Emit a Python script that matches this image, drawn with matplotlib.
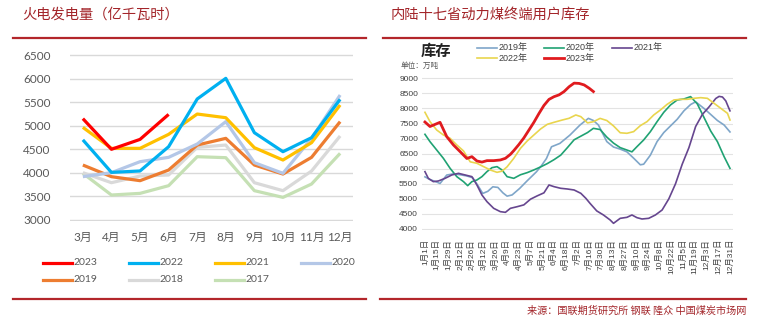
import matplotlib.pyplot as plt
from matplotlib.lines import Line2D

plt.rcParams["font.family"] = ["Lato", "Noto Sans CJK SC", "DejaVu Sans"]

W, H = 761, 328

# thermal power generation, 100 million kWh
months = ["3月", "4月", "5月", "6月", "7月", "8月", "9月", "10月", "11月", "12月"]
gen_2023 = [5150, 4500, 4710, 5240]
gen_2022 = [4700, 4010, 4040, 4555, 5567, 6005, 4852, 4449, 4746, 5560]
gen_2021 = [4965, 4520, 4520, 4817, 5248, 5170, 4534, 4272, 4640, 5440]
gen_2020 = [3919, 4004, 4237, 4329, 4612, 5086, 4216, 3990, 4732, 5651]
gen_2019 = [4166, 3919, 3834, 4060, 4590, 4732, 4166, 3975, 4329, 5086]
gen_2018 = [4004, 3791, 3933, 3954, 4541, 4590, 3791, 3622, 4039, 4782]
gen_2017 = [3990, 3530, 3565, 3728, 4343, 4322, 3622, 3480, 3763, 4414]

# inland 17 provinces end-user stocks, 10k tonnes (day of year)
days_2019 = [0, 6, 12, 18, 26, 34, 42, 50, 57, 63, 69, 75, 81, 87, 93, 98, 104, 113,
             122, 133, 139, 145, 151, 161, 173, 185, 195, 201, 207, 217, 225, 233, 241,
             249, 257, 261, 269, 277, 285, 293, 301, 309, 317, 323, 333, 341, 349, 357, 364]
stock_2019 = [5730, 5640, 5580, 5510, 5790, 5830, 5800, 5760, 5700, 5450, 5180, 5250, 5400,
              5380, 5200, 5090, 5130, 5346, 5600, 5897, 6100, 6340, 6728, 6840, 7116, 7449,
              7671, 7600, 7450, 6900, 6720, 6650, 6560, 6350, 6130, 6150, 6450, 6900, 7200,
              7420, 7640, 7920, 8130, 8220, 8000, 7800, 7600, 7450, 7220]
days_2020 = [0, 6, 14, 22, 30, 38, 46, 51, 56, 62, 68, 74, 80, 86, 92, 98, 106, 114, 122,
             130, 138, 146, 154, 162, 170, 178, 186, 194, 201, 209, 217, 225, 233, 241, 247,
             253, 261, 269, 277, 285, 293, 301, 309, 317, 325, 333, 341, 349, 357, 364]
stock_2020 = [7142, 6898, 6622, 6345, 6013, 5737, 5571, 5438, 5571, 5626, 5737, 5903, 6035,
              6069, 5958, 5737, 5681, 5800, 5870, 5960, 6060, 6170, 6300, 6450, 6700, 6960,
              7080, 7200, 7340, 7300, 7050, 6850, 6700, 6620, 6560, 6732, 6954, 7230, 7562,
              7872, 8115, 8281, 8314, 8392, 8150, 7700, 7250, 6898, 6400, 6013]
days_2021 = [0, 4, 10, 16, 24, 32, 40, 48, 56, 62, 68, 74, 82, 90, 96, 102, 110, 118, 126,
             134, 142, 148, 154, 162, 170, 178, 186, 192, 197, 205, 213, 221, 225, 233, 241,
             247, 253, 259, 267, 275, 283, 291, 299, 307, 315, 323, 331, 339, 347, 351, 355,
             359, 362, 364]
stock_2021 = [5903, 5681, 5571, 5593, 5681, 5792, 5847, 5792, 5737, 5460, 5128, 4907, 4686,
              4575, 4553, 4686, 4740, 4800, 4990, 5100, 5200, 5460, 5405, 5350, 5327, 5294,
              5184, 5018, 4850, 4600, 4465, 4299, 4188, 4354, 4387, 4465, 4376, 4332, 4354,
              4465, 4630, 5000, 5500, 6150, 6700, 7400, 7800, 8050, 8330, 8400, 8380, 8250,
              8050, 7920]
days_2022 = [0, 6, 14, 22, 30, 38, 46, 54, 62, 70, 78, 86, 92, 98, 106, 114, 122, 130, 138,
             146, 154, 164, 172, 180, 186, 194, 201, 209, 217, 225, 233, 241, 249, 257, 265,
             273, 281, 289, 297, 305, 313, 321, 329, 337, 345, 353, 361, 364]
stock_2022 = [7872, 7562, 7285, 7120, 7010, 6788, 6590, 6229, 6180, 6069, 5958, 5880, 5920,
              6063, 6345, 6677, 6920, 7120, 7319, 7473, 7540, 7617, 7673, 7783, 7728, 7520,
              7560, 7670, 7600, 7420, 7193, 7175, 7230, 7429, 7562, 7783, 7949, 8137, 8281,
              8303, 8303, 8336, 8358, 8336, 8170, 8004, 7838, 7617]
days_2023 = [0, 6, 12, 18, 26, 34, 42, 50, 56, 62, 68, 74, 82, 90, 96, 102, 106, 112, 118,
             124, 130, 136, 142, 148, 154, 160, 166, 172, 178, 184, 190, 196, 201]
stock_2023 = [7550, 7400, 7470, 7540, 7064, 6788, 6566, 6340, 6400, 6257, 6220, 6268, 6268,
              6290, 6345, 6478, 6600, 6800, 7020, 7280, 7540, 7830, 8100, 8300, 8390, 8450,
              8560, 8720, 8840, 8830, 8780, 8670, 8560]

date_ticks = list(range(0, 365, 14))
date_labels = ["1月1日", "1月15日", "1月29日", "2月12日", "2月26日", "3月12日", "3月26日",
               "4月9日", "4月23日", "5月7日", "5月21日", "6月4日", "6月18日", "7月2日",
               "7月16日", "7月30日", "8月13日", "8月27日", "9月10日", "9月24日", "10月8日",
               "10月22日", "11月5日", "11月19日", "12月3日", "12月17日", "12月31日"]

title_red = "#a3252a"
rule_red = "#b3262b"


def box(x0, y0, x1, y1):
    return [x0 / W, 1 - y1 / H, (x1 - x0) / W, (y1 - y0) / H]


def fx(x):
    return x / W


def fy(y):
    return 1 - y / H


fig = plt.figure(figsize=(W / 100, H / 100), dpi=100)

# ---- left: generation by month
ax1 = fig.add_axes(box(70, 55 - 0.94, 353, 220 + 0.94))
xs = list(range(len(months)))
left_series = [
    ("2017", gen_2017, "#c5e0b4"),
    ("2018", gen_2018, "#d9d9d9"),
    ("2019", gen_2019, "#ed7d31"),
    ("2020", gen_2020, "#b4c7e7"),
    ("2021", gen_2021, "#ffc000"),
    ("2022", gen_2022, "#00b0f0"),
    ("2023", gen_2023, "#ff0000"),
]
for name, vals, c in left_series:
    ax1.plot(xs[:len(vals)], vals, color=c, lw=2.3, solid_joinstyle="round", solid_capstyle="butt")
ax1.set_xlim(-0.45, 9.45)
ax1.set_ylim(2980, 6520)
ax1.set_yticks(range(3000, 7000, 500))
ax1.set_xticks(xs)
ax1.set_xticklabels(months)
ax1.grid(axis="y", color="#d9d9d9", lw=1)
ax1.set_axisbelow(True)
for s in ax1.spines.values():
    s.set_visible(False)
ax1.tick_params(length=0, labelsize=8.5, labelcolor="#595959")
ax1.tick_params(axis="y", pad=14)
ax1.tick_params(axis="x", pad=8)

# left legend, two rows
legend_left = [("2023", "#ff0000"), ("2022", "#00b0f0"), ("2021", "#ffc000"), ("2020", "#b4c7e7"),
               ("2019", "#ed7d31"), ("2018", "#d9d9d9"), ("2017", "#c5e0b4")]
for i, (name, c) in enumerate(legend_left):
    row, col = divmod(i, 4)
    x0 = 43 + col * 86
    y0 = 262.5 + row * 17.5
    fig.add_artist(Line2D([fx(x0), fx(x0 + 29)], [fy(y0), fy(y0)], color=c, lw=2.3))
    fig.text(fx(x0 + 30), fy(y0), name, ha="left", va="center", fontsize=7.5, color="#595959")

# ---- right: stocks by date
ax2 = fig.add_axes(box(421.6, 78.3 - 0.9, 732.5, 229 + 0.9))
right_series = [
    (days_2019, stock_2019, "#7fa6c9", 1.2),
    (days_2020, stock_2020, "#20a273", 1.2),
    (days_2021, stock_2021, "#66468f", 1.2),
    (days_2022, stock_2022, "#e9d54e", 1.2),
    (days_2023, stock_2023, "#e01b1f", 2.0),
]
for d, v, c, lw in right_series:
    ax2.plot(d, v, color=c, lw=lw, solid_joinstyle="round")
ax2.set_xlim(-4, 367)
ax2.set_ylim(3970, 9030)
ax2.set_yticks(range(4000, 9500, 500))
ax2.set_xticks(date_ticks)
ax2.set_xticklabels(date_labels, rotation=90)
ax2.grid(axis="y", color="#e3e3e3", lw=0.8)
ax2.set_axisbelow(True)
for s in ax2.spines.values():
    s.set_visible(False)
ax2.tick_params(length=0, labelsize=6, labelcolor="#404040")
ax2.tick_params(axis="y", pad=2.5)
ax2.tick_params(axis="x", pad=6.5)
for lab in ax2.get_yticklabels() + ax2.get_xticklabels():
    lab.set_family(["Liberation Sans", "Noto Sans CJK SC"])

fig.text(fx(421), fy(51), "库存", ha="left", va="center", fontsize=11, fontweight="bold",
         color="#222222", family=["Noto Sans CJK SC"])
fig.text(fx(401), fy(66), "单位：万吨", ha="left", va="center", fontsize=5.5,
         color="#555555", family=["Noto Sans CJK SC"])

legend_right = [("2019年", "#7fa6c9", 1.2, 477, 47.7), ("2020年", "#20a273", 1.2, 544, 47.7),
                ("2021年", "#66468f", 1.2, 612, 47.7), ("2022年", "#e9d54e", 1.2, 477, 58.3),
                ("2023年", "#e01b1f", 2.0, 544, 58.3)]
for name, c, lw, x0, y0 in legend_right:
    fig.add_artist(Line2D([fx(x0), fx(x0 + 20)], [fy(y0), fy(y0)], color=c, lw=lw))
    fig.text(fx(x0 + 21.5), fy(y0), name, ha="left", va="center", fontsize=6.5,
             color="#404040", family=["Liberation Sans", "Noto Sans CJK SC"])

# ---- titles, rules and source
fig.text(fx(22), fy(15), "火电发电量（亿千瓦时）", ha="left", va="center", fontsize=10.3,
         color=title_red, family=["Noto Sans CJK SC"])
fig.text(fx(391), fy(15), "内陆十七省动力煤终端用户库存", ha="left", va="center", fontsize=10.3,
         color=title_red, family=["Noto Sans CJK SC"])
for xa, xb in [(13, 366), (383, 746)]:
    fig.add_artist(Line2D([fx(xa), fx(xb)], [fy(38), fy(38)], color=rule_red, lw=1.6))
for xa, xb in [(13, 366), (380, 746)]:
    fig.add_artist(Line2D([fx(xa), fx(xb)], [fy(299), fy(299)], color=rule_red, lw=1.6))
fig.text(fx(746), fy(311), "来源：国联期货研究所 钢联 隆众 中国煤炭市场网", ha="right", va="center",
         fontsize=7.3, color=title_red, family=["Noto Sans CJK SC"])

fig.savefig("out.png", dpi=100)
